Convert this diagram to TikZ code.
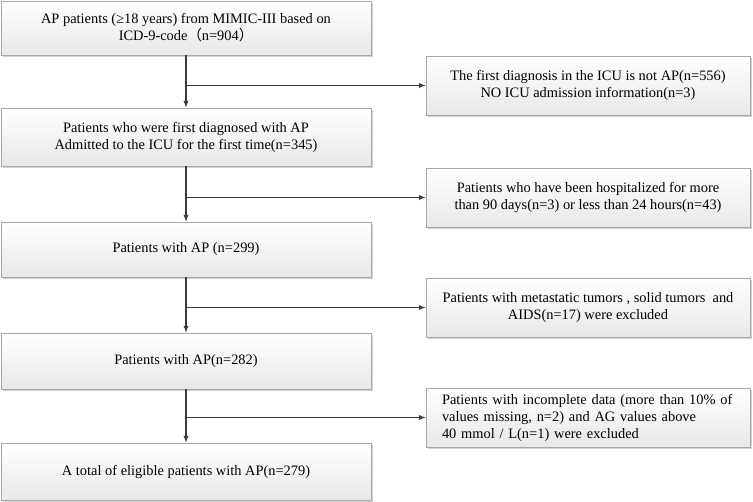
\documentclass[tikz,border=0pt]{standalone}
\usepackage{fontspec}
\setmainfont{Liberation Serif}
\newfontfamily\cjk{Noto Sans CJK SC}
\usetikzlibrary{shadows}
\definecolor{boxline}{HTML}{A8A8A8}
\definecolor{arrline}{HTML}{3C3C3C}
\begin{document}
\begin{tikzpicture}[x = 1pt, y = -1pt,
  font = \fontsize{14.4}{17}\selectfont,
  flowbox/.style = {draw = boxline, line width = .8pt, top color = white,
  bottom color = black!9, inner sep = 0pt, align = center,
  drop shadow = {shadow xshift = 2pt, shadow yshift = -2pt, fill = black!18,
  opacity = 1}},
  mainbox/.style = {flowbox, minimum width = 370pt},
  sidebox/.style = {flowbox, minimum width = 324pt, minimum height = 59pt},
  arr/.style = {draw = arrline, line width = 1.3pt, -latex}]
  \useasboundingbox (0, 0) rectangle (753, 502);
  % main column
  \node[mainbox, minimum height = 54pt] (total) at (186, 28)
  {AP patients (≥18 years) from MIMIC-III based on\\
  ICD-9-code{\cjk （}n=904{\cjk ）}};
  \node[mainbox, minimum height = 58pt] (first) at (186, 137)
  {Patients who were first diagnosed with AP\\
  Admitted to the ICU for the first time(n=345)};
  \node[mainbox, minimum height = 55pt] (ap299) at (186, 249.5)
  {Patients with AP (n=299)};
  \node[mainbox, minimum height = 56pt] (ap282) at (186, 361)
  {Patients with AP(n=282)};
  \node[mainbox, minimum height = 57pt] (final) at (186, 471.5)
  {A total of eligible patients with AP(n=279)};
  % exclusions
  \node[sidebox] (notap) at (588, 85.5)
  {The first diagnosis in the ICU is not AP(n=556)\\
  NO ICU admission information(n=3)};
  \node[sidebox] (stay) at (588, 197.5)
  {Patients who have been hospitalized for more\\
  than 90 days(n=3) or less than 24 hours(n=43)};
  \node[sidebox] (tumor) at (588, 307.5)
  {Patients with metastatic tumors , solid tumors\ \ and\\
  AIDS(n=17) were excluded};
  \node[sidebox, text width = 292pt, align = left] (missing) at (588, 417.5)
  {Patients with incomplete data (more than 10\% of\\
  values missing, n=2) and AG values above\\
  40 mmol / L(n=1) were excluded};
  % arrows
  \draw[arr] (total) -- (first);
  \draw[arr] (first) -- (ap299);
  \draw[arr] (ap299) -- (ap282);
  \draw[arr] (ap282) -- (final);
  \draw[arr] (total.south |- notap.west) -- (notap.west);
  \draw[arr] (first.south |- stay.west) -- (stay.west);
  \draw[arr] (ap299.south |- tumor.west) -- (tumor.west);
  \draw[arr] (ap282.south |- missing.west) -- (missing.west);
\end{tikzpicture}
\end{document}
